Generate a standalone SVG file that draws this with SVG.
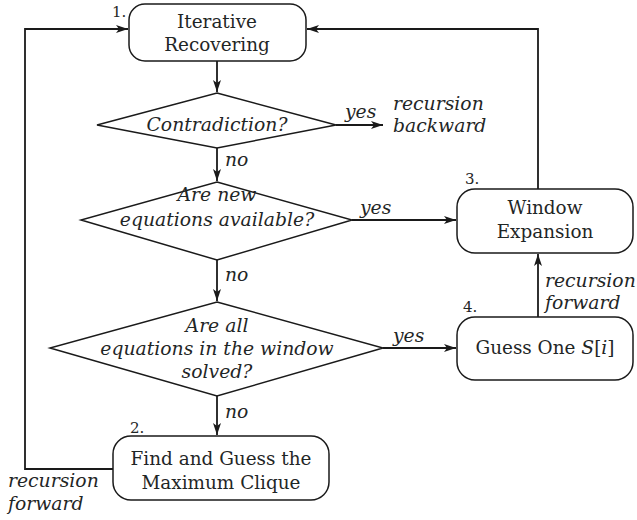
<svg xmlns="http://www.w3.org/2000/svg" width="637" height="520" viewBox="0 0 637 520">
  <style>
    .box { fill: #ffffff; stroke: #1a1a1a; stroke-width: 1.5; }
    .edge { fill: none; stroke: #1a1a1a; stroke-width: 1.8; }
    text { font-family: "DejaVu Serif", "Liberation Serif", serif; fill: #1f2626; font-size: 18.4px; }
    .c { text-anchor: middle; }
    .i { font-style: italic; font-size: 18.8px; }
    .n { font-size: 15px; }
  </style>
  <defs>
    <marker id="arrow" viewBox="0 0 12 8" refX="12" refY="4" markerWidth="12" markerHeight="8" markerUnits="userSpaceOnUse" orient="auto">
      <path d="M0,0 L12,4 L0,8 L3,4 Z" fill="#1a1a1a"/>
    </marker>
  </defs>

  <!-- connectors -->
  <g id="connectors">
    <path class="edge" d="M217,61 V92" marker-end="url(#arrow)"/>
    <path class="edge" d="M336,125 H383" marker-end="url(#arrow)"/>
    <path class="edge" d="M217,148 V181" marker-end="url(#arrow)"/>
    <path class="edge" d="M352,220 H456" marker-end="url(#arrow)"/>
    <path class="edge" d="M217,260 V301" marker-end="url(#arrow)"/>
    <path class="edge" d="M383,348 H456" marker-end="url(#arrow)"/>
    <path class="edge" d="M217,396 V435" marker-end="url(#arrow)"/>
    <path class="edge" d="M113,469 H25 V29 H128" marker-end="url(#arrow)"/>
    <path class="edge" d="M538,189 V29 H307" marker-end="url(#arrow)"/>
    <path class="edge" d="M538,317 V254" marker-end="url(#arrow)"/>
    <text class="i" x="225" y="166">no</text>
    <text class="i" x="225" y="281">no</text>
    <text class="i" x="225" y="418">no</text>
    <text class="i" x="345" y="118">yes</text>
    <text class="i" x="360" y="214">yes</text>
    <text class="i" x="393" y="342">yes</text>
    <text class="i" x="393" y="110">recursion</text>
    <text class="i" x="393" y="132">backward</text>
    <text class="i" x="545" y="287">recursion</text>
    <text class="i" x="545" y="309">forward</text>
    <text class="i" x="8" y="487">recursion</text>
    <text class="i" x="8" y="510">forward</text>
  </g>

  <!-- 1. Iterative Recovering -->
  <g id="node-iterative">
    <rect class="box" x="129" y="4" width="177" height="57" rx="16"/>
    <text class="n" x="112" y="17">1.</text>
    <text class="c" x="217" y="28">Iterative</text>
    <text class="c" x="217" y="51">Recovering</text>
  </g>

  <!-- Contradiction? -->
  <g id="node-contradiction">
    <polygon class="box" points="217,93 336,125 217,148 97,125"/>
    <text class="c i" x="217" y="131">Contradiction?</text>
  </g>

  <!-- Are new equations available? -->
  <g id="node-new-equations">
    <polygon class="box" points="217,182 352,220 217,260 81,220"/>
    <text class="c i" x="217" y="201">Are new</text>
    <text class="c i" x="217" y="226">equations available?</text>
  </g>

  <!-- Are all equations in the window solved? -->
  <g id="node-all-solved">
    <polygon class="box" points="217,302 383,348 217,396 50,348"/>
    <text class="c i" x="217" y="332">Are all</text>
    <text class="c i" x="217" y="355">equations in the window</text>
    <text class="c i" x="217" y="378">solved?</text>
  </g>

  <!-- 2. Find and Guess the Maximum Clique -->
  <g id="node-clique">
    <rect class="box" x="113" y="436" width="216" height="64" rx="18"/>
    <text class="n" x="130" y="433">2.</text>
    <text class="c" x="221" y="465">Find and Guess the</text>
    <text class="c" x="221" y="489">Maximum Clique</text>
  </g>

  <!-- 3. Window Expansion -->
  <g id="node-window">
    <rect class="box" x="457" y="189" width="176" height="64" rx="18"/>
    <text class="n" x="465" y="184">3.</text>
    <text class="c" x="545" y="214">Window</text>
    <text class="c" x="545" y="238">Expansion</text>
  </g>

  <!-- 4. Guess One S[i] -->
  <g id="node-guess">
    <rect class="box" x="457" y="317" width="176" height="63" rx="18"/>
    <text class="n" x="463" y="312">4.</text>
    <text class="c" x="545" y="354">Guess One <tspan class="i">S</tspan>[<tspan class="i">i</tspan>]</text>
  </g>
</svg>
